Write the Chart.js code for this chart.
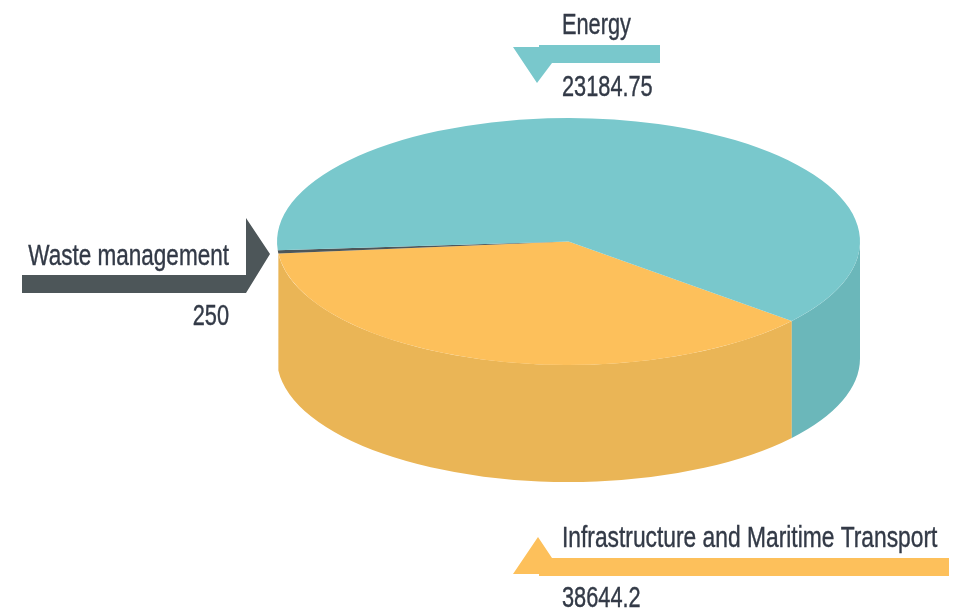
<!DOCTYPE html>
<html lang="en">
<head>
  <meta charset="UTF-8" />
  <title>Pie</title>
  <script src="https://cdn.jsdelivr.net/npm/chart.js"></script>
  <style>
    html, body { margin: 0; padding: 0; background: #fff; }
    canvas { display: block; }
  </style>
</head>
<body>
  <canvas id="pieChart" width="962" height="611"></canvas>

  <script>
    // Slices as the picture draws them, clockwise from the front right edge.
    // The reference prints the two big numbers against the opposite colours,
    // so the printed captions are kept apart from the slice sizes.
    const sliceNames = ['Orange slice', 'Waste management', 'Teal slice'];
    const sliceValues = [23184.75, 250, 38644.2];
    const topColors = ['#FDC05B', '#4D5659', '#79C8CC'];
    const wallColors = ['#EAB556', '#4D5659', '#6BB7BA'];

    const captions = ['Energy', '23184.75', 'Waste management', '250', 'Infrastructure and Maritime Transport', '38644.2'];
    const captionX = [562, 562, 229, 229, 562, 562];
    const captionY = [34, 96, 265, 325, 547, 607];
    const captionAlign = ['left', 'left', 'right', 'right', 'left', 'left'];
    // no condensed face is installed, so Liberation Sans is squeezed sideways
    const captionStretch = [0.75, 0.75, 0.777, 0.75, 0.786, 0.75];

    const arrows = [
      { color: '#79C8CC', pts: [[513,47],[539,47],[539,45],[660,45],[660,63],[552,63],[537,83]] },
      { color: '#4D5659', pts: [[22,275],[246,275],[246,218],[270,254],[246,293],[22,293]] },
      { color: '#FDC05B', pts: [[538,537],[552,558],[949,558],[949,576],[539,576],[539,574],[513,574]] }
    ];

    const centerY = 241.5, squash = 123.5 / 291.5, depth = 117;

    // Wall of one slice: only the part facing the viewer (0..180deg)
    function drawWall(ctx, arc, color, rx, ry) {
      [0, 2 * Math.PI].forEach(shift => {
        const a = Math.max(arc.startAngle, shift);
        const b = Math.min(arc.endAngle, shift + Math.PI);
        if (b - a < 0.15) return; // slivers at the left edge would only show as a dark line
        ctx.beginPath();
        ctx.ellipse(arc.x, centerY, rx, ry, 0, a, b);
        ctx.ellipse(arc.x, centerY + depth, rx, ry, 0, b, a, true);
        ctx.closePath();
        ctx.fillStyle = color;
        ctx.fill();
      });
    }

    const tiltPlugin = {
      id: 'tilt',
      beforeDatasetsDraw(chart) {
        const ctx = chart.ctx;
        const arcs = chart.getDatasetMeta(0).data;
        arcs.forEach((arc, i) => drawWall(ctx, arc, wallColors[i], arc.outerRadius, arc.outerRadius * squash));
        const a0 = arcs[0];
        ctx.save();
        ctx.translate(a0.x, centerY);
        ctx.scale(1, squash);
        ctx.translate(-a0.x, -a0.y);
      },
      afterDatasetsDraw(chart) {
        chart.ctx.restore();
      },
      afterDraw(chart) {
        const ctx = chart.ctx;
        arrows.forEach(a => {
          ctx.beginPath();
          a.pts.forEach((p, i) => i ? ctx.lineTo(p[0], p[1]) : ctx.moveTo(p[0], p[1]));
          ctx.closePath();
          ctx.fillStyle = a.color;
          ctx.fill();
        });
        ctx.font = '29px "Liberation Sans", sans-serif';
        ctx.fillStyle = '#333A47';
        ctx.strokeStyle = '#333A47';
        ctx.lineWidth = 0.4;
        ctx.textBaseline = 'alphabetic';
        captions.forEach((t, i) => {
          ctx.save();
          ctx.translate(captionX[i], captionY[i]);
          ctx.scale(captionStretch[i], 1);
          ctx.textAlign = captionAlign[i];
          ctx.fillText(t, 0, 0);
          ctx.strokeText(t, 0, 0);
          ctx.restore();
        });
      }
    };

    new Chart(document.getElementById('pieChart').getContext('2d'), {
      type: 'pie',
      data: {
        labels: sliceNames,
        datasets: [{
          data: sliceValues,
          backgroundColor: topColors,
          borderWidth: 0,
          radius: 291.5,
          clip: false
        }]
      },
      options: {
        responsive: false,
        animation: false,
        rotation: 130,
        layout: { padding: { left: 175 } },
        plugins: { legend: { display: false }, tooltip: { enabled: false } }
      },
      plugins: [tiltPlugin]
    });
  </script>
</body>
</html>
